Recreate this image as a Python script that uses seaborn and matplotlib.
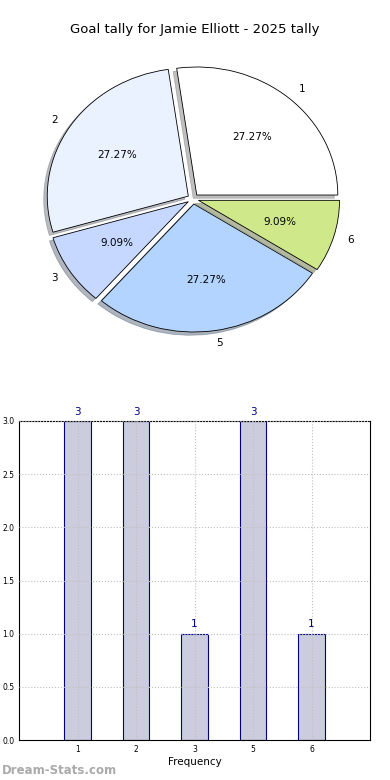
import matplotlib
matplotlib.use("Agg")
import matplotlib.pyplot as plt
import seaborn as sns
import pandas as pd

#%% data
goals = ["1", "2", "3", "5", "6"]
counts = [3, 3, 1, 3, 1]
pie_colors = ["#ffffff", "#eaf1ff", "#c6d8ff", "#b3d4ff", "#cfe98a"]

sns.set_style("white")
plt.rcParams['font.family'] = ['DejaVu Sans']
plt.rcParams['text.color'] = 'black'
plt.rcParams['axes.labelcolor'] = 'black'
plt.rcParams['xtick.color'] = 'black'
plt.rcParams['ytick.color'] = 'black'

fig = plt.figure(figsize=(3.9, 7.8), dpi=100)

#%% pie (reference is slightly squashed vertically)
ax1 = fig.add_axes([0.061, 0.548, 0.868, 0.394])
ax1.pie(counts, labels=goals, colors=pie_colors, explode=[0.04]*len(counts),
        autopct='%.2f%%', shadow=dict(ox=-0.018, oy=-0.018, shade=0.5),
        startangle=0, counterclock=True,
        wedgeprops=dict(edgecolor='black', linewidth=0.6),
        textprops=dict(fontsize=7.5, color='black'))
ax1.set_xlim(-1.2, 1.2)
ax1.set_ylim(-1.2, 1.2)
ax1.set_aspect('auto')
fig.text(0.5, 1 - 30/780, "Goal tally for Jamie Elliott - 2025 tally",
         ha='center', va='center', fontsize=9.5)

#%% bars
ax2 = fig.add_axes([19/390, 1 - 740/780, 351/390, 319/780])
df = pd.DataFrame({"goals": goals, "count": counts})
sns.barplot(data=df, x="goals", y="count", ax=ax2, color="#ccccdf",
            edgecolor="navy", linewidth=0.8, width=0.45, saturation=1)
ax2.set_xlim(-1, 5)
ax2.set_ylim(0, 3)
ax2.set_yticks([0, 0.5, 1, 1.5, 2, 2.5, 3])
ax2.set_yticklabels(["0.0", "0.5", "1.0", "1.5", "2.0", "2.5", "3.0"])
ax2.grid(True, linestyle=':', color='#c0c0c0', linewidth=0.8)
ax2.set_axisbelow(False)
ax2.tick_params(labelsize=5.5, length=2, direction='in')
ax2.set_xlabel("Frequency", fontsize=7.5, labelpad=2)
ax2.set_ylabel("")
for sp in ax2.spines.values():
    sp.set_color('black')
    sp.set_linewidth(0.8)
for i, c in enumerate(counts):
    ax2.text(i, c + 0.04, str(c), ha='center', va='bottom', color='navy', fontsize=7.5)

fig.text(2/390, 1 - 771/780, "Dream-Stats.com", color='#aaaaaa', fontsize=8.5,
         fontweight='bold', ha='left', va='center')

fig.savefig("out.png", dpi=100)
